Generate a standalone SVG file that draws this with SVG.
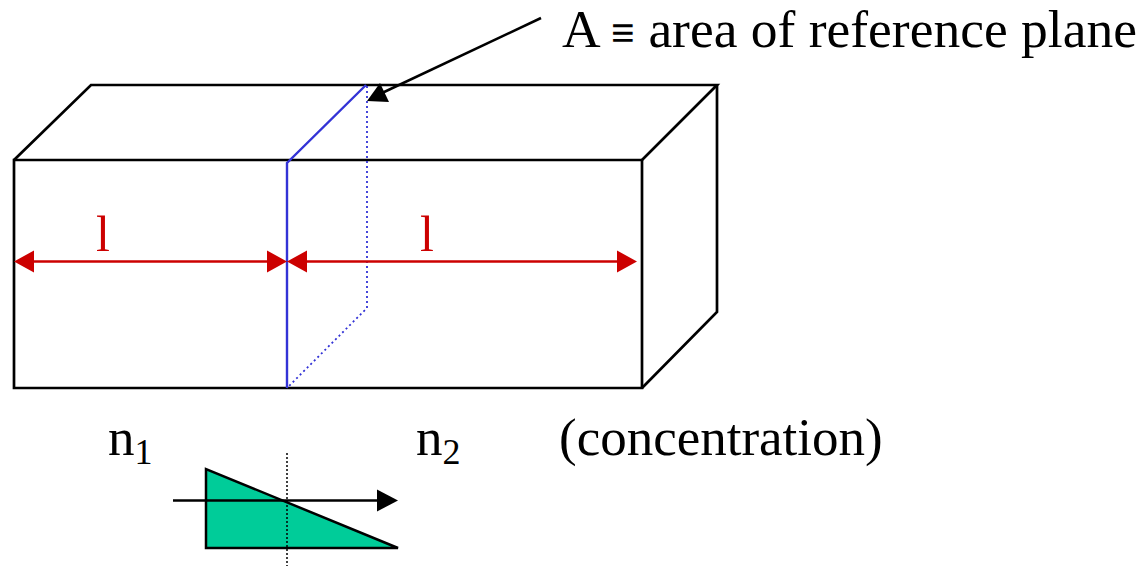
<svg xmlns="http://www.w3.org/2000/svg" width="1148" height="566" viewBox="0 0 1148 566">
<style>
.box{fill:none;stroke:#000;stroke-width:2.7;stroke-linejoin:miter}
.blue{fill:none;stroke:#3333D6;stroke-width:2.4}
.bdot{fill:none;stroke:#3333D6;stroke-width:1.8;stroke-dasharray:2 3}
.red{fill:none;stroke:#CC0000;stroke-width:2.4}
.redh{fill:#CC0000}
.t{font-family:"Liberation Serif","Times New Roman",serif;fill:#000}
.rt{font-family:"Liberation Serif","Times New Roman",serif;fill:#CC0000}
</style>
<rect width="1148" height="566" fill="#fff"/>
<g id="box">
<path class="box" d="M14,160 L642,160 L642,388 L14,388 Z"/>
<path class="box" d="M14,160 L91,85 L717,85 L642,160"/>
<path class="box" d="M717,85 L717,312 L642,388"/>
</g>
<g id="plane">
<path class="blue" d="M287,388 L287,163 L366,85"/>
<path class="bdot" d="M367,86 L367,308 L287,388"/>
</g>
<g id="connectors">
<line class="red" x1="32" y1="261.5" x2="270" y2="261.5"/>
<polygon class="redh" points="14,261.5 34,250.5 34,272.5"/>
<polygon class="redh" points="287,261.5 267,250.5 267,272.5"/>
<line class="red" x1="305" y1="261.5" x2="619" y2="261.5"/>
<polygon class="redh" points="287,261.5 307,250.5 307,272.5"/>
<polygon class="redh" points="637,261.5 617,250.5 617,272.5"/>
<line x1="541" y1="18" x2="382" y2="93" stroke="#000" stroke-width="2.5"/>
<polygon points="367,101 380,83 389,102" fill="#000"/>
</g>
<g id="labels">
<text class="rt" x="96" y="251" font-size="50">l</text>
<text class="rt" x="420" y="251" font-size="50">l</text>
<text class="t" x="562" y="47" font-size="53.5">A <tspan font-size="42" font-weight="bold">≡</tspan> area of reference plane</text>
<text class="t" x="108" y="455" font-size="53">n<tspan font-size="36" dy="9">1</tspan></text>
<text class="t" x="416" y="455" font-size="53">n<tspan font-size="36" dy="9">2</tspan></text>
<text class="t" x="559" y="455" font-size="53">(concentration)</text>
</g>
<g id="profile">
<polygon points="206,469 206,548 398,548" fill="#00CC99" stroke="#000" stroke-width="2.5" stroke-linejoin="miter"/>
<line x1="287" y1="453" x2="287" y2="566" stroke="#000" stroke-width="1.5" stroke-dasharray="2 2"/>
<line x1="173" y1="500.5" x2="380" y2="500.5" stroke="#000" stroke-width="2.5"/>
<polygon points="398,500.5 377,489.5 377,511.5" fill="#000"/>
</g>
</svg>
